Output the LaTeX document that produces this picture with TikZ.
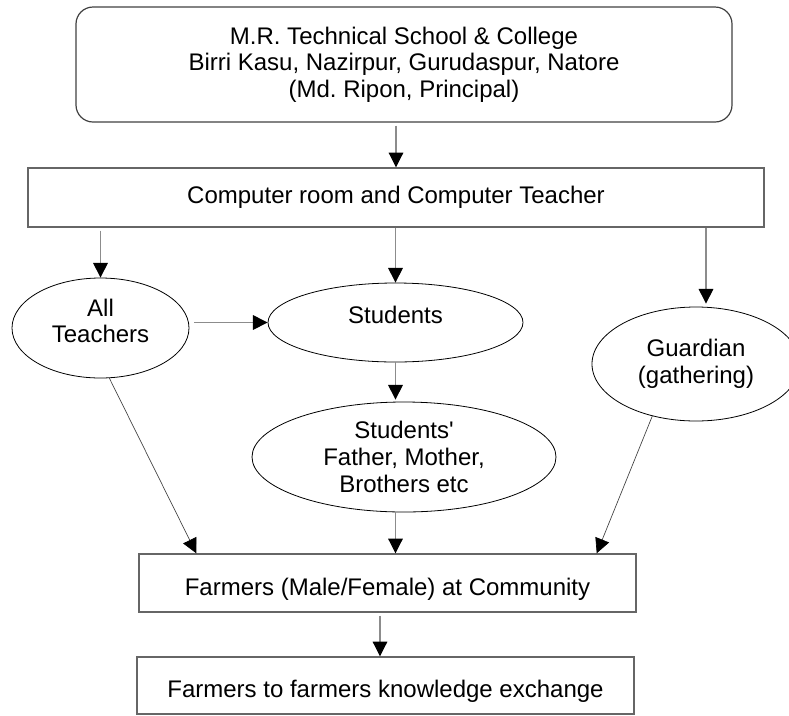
\documentclass[tikz,border=0pt]{standalone}
\usepackage{fontspec}
\setmainfont{Liberation Sans}
\usepackage{tikz}
\usetikzlibrary{shapes.geometric, arrows.meta, calc}
\tikzset{
    rbox/.style={rectangle, rounded corners=12.75pt, draw=black!75, line width=0.9pt, align=center},
    box/.style={rectangle, draw=black!60, line width=1.1pt, align=center},
    lowbox/.style={box, text height=22pt, text depth=3.6pt},
    oval/.style={ellipse, draw=black, line width=0.6pt, inner sep=0pt, align=center},
    arrow/.style={-{Triangle[length=11pt,width=11pt,black]}, draw=black!45, line width=0.8pt},
    slant/.style={-{Triangle[length=11pt,width=11pt,black]}, draw=black!75, line width=0.5pt}
}
\frenchspacing

\begin{document}
\begin{tikzpicture}[x=0.75pt, y=-0.75pt,
    font=\fontsize{18}{20}\selectfont]
    \useasboundingbox (0,0) rectangle (789,715);

    % Institution
    \node[rbox, minimum width=492pt, minimum height=86.25pt] (school) at (404,64.5)
        {M.R. Technical School \& College\\Birri Kasu, Nazirpur, Gurudaspur, Natore\\(Md. Ripon, Principal)};
    \node[box, minimum width=552pt, minimum height=44.25pt] (lab) at (396,197.5)
        {Computer room and Computer Teacher};

    % Groups
    \node[oval, minimum width=132.75pt, minimum height=75pt, text depth=11pt] (teachers) at (100.5,328) {All\\Teachers};
    \node[oval, minimum width=191.25pt, minimum height=59.25pt, text depth=11pt] (students) at (395.5,322.5) {Students};
    \node[oval, minimum width=156pt, minimum height=85.5pt] (guardian) at (696,364) {Guardian\\(gathering)};
    \node[oval, minimum width=228pt, minimum height=82.5pt] (family) at (404,457)
        {Students\textquotesingle\\Father, Mother,\\Brothers etc};

    % Community
    \node[lowbox, minimum width=372.75pt, minimum height=43.5pt] (farmers) at (387.5,583)
        {Farmers (Male/Female) at Community};
    \node[lowbox, minimum width=372.75pt, minimum height=42.75pt] (exchange) at (385.5,685.5)
        {Farmers to farmers knowledge exchange};

    % Connections
    \draw[arrow] ([yshift=-2.25pt]school.south -| lab.north) -- (lab.north);
    \draw[arrow] ([yshift=-2.25pt]lab.south -| teachers.north) -- (teachers.north);
    \draw[arrow] (lab.south -| students.north) -- (students.north);
    \draw[arrow] ($(lab.south -| guardian.north)+(10,0)$) -- ($(guardian.north)+(10,-3)$);
    \draw[arrow] ($(teachers.east |- students.west)+(5,0)$) -- (students.west);
    \draw[arrow] (students.south) -- ($(students.south |- family.north)+(0,-2)$);
    \draw[slant] (teachers.280) -- ($(farmers.north west)+(58,0)$);
    \draw[arrow] (family.south -| students.south) -- (farmers.north -| students.south);
    \draw[slant] (guardian.230) -- ($(farmers.north east)+(-40,0)$);
    \draw[arrow] ($(farmers.south)+(-7.5,3)$) -- ($(exchange.north)+(-5.5,0)$);
\end{tikzpicture}
\end{document}
